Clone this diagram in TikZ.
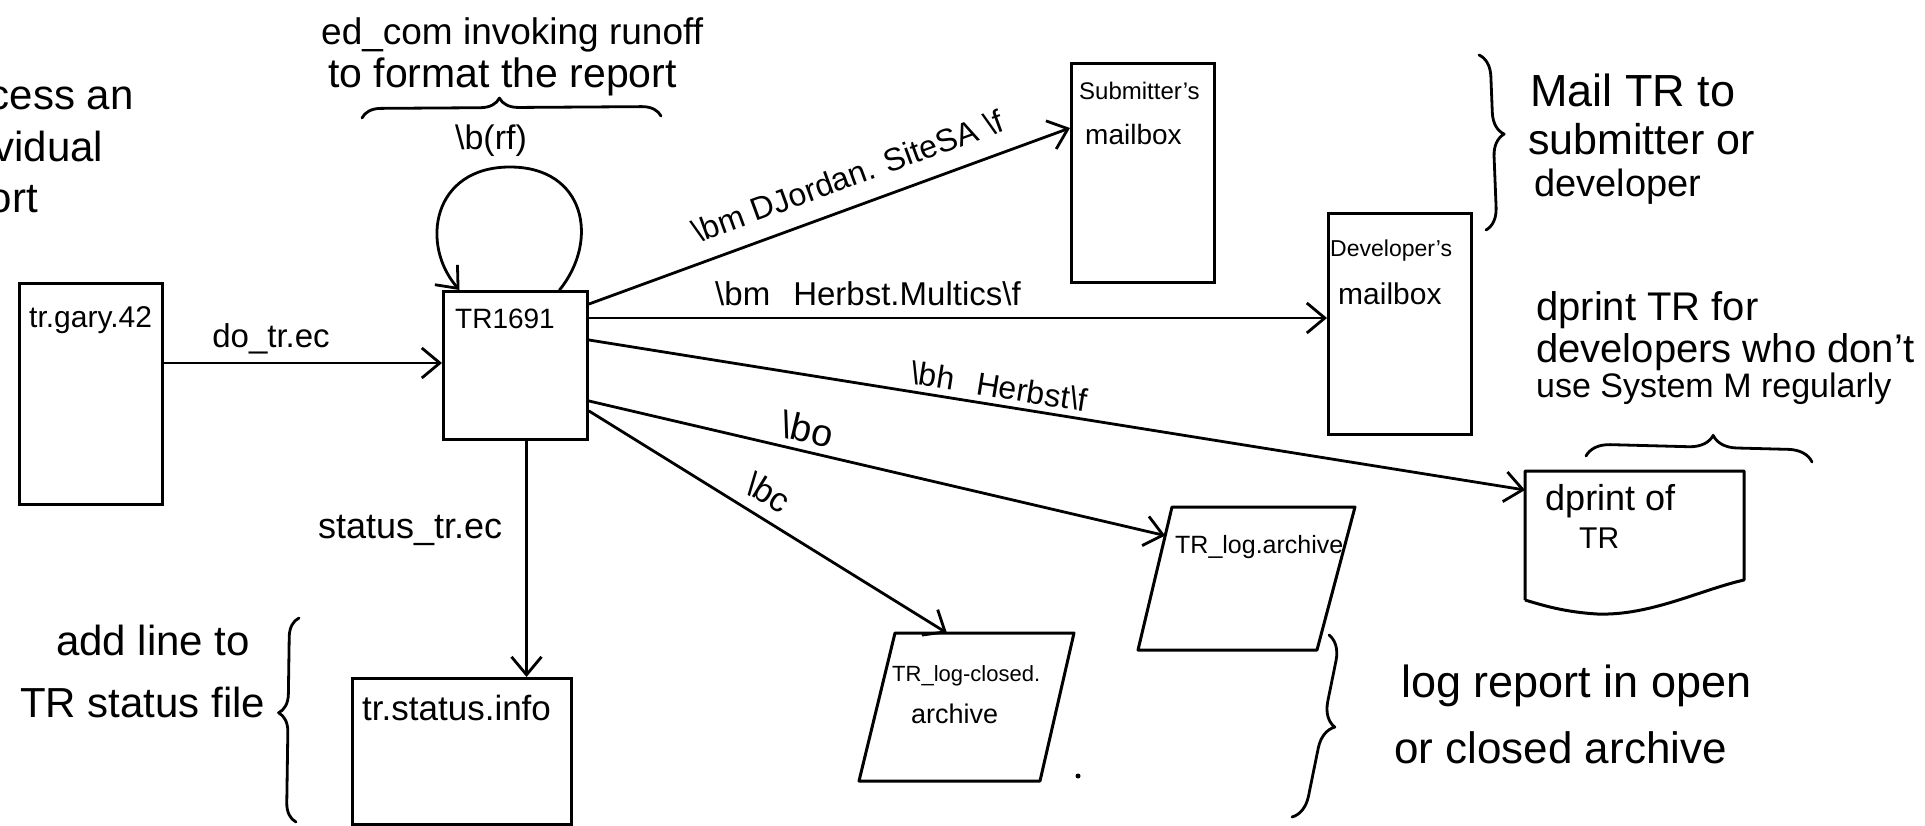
\documentclass[tikz,border=0pt]{standalone}
\usepackage{fontspec}
\setmainfont{Liberation Sans}
\usetikzlibrary{arrows.meta,calc,decorations.pathreplacing}

% font size in pt; the picture uses 1pt per unit
\newcommand\hsz[1]{\fontsize{#1}{#1}\selectfont}

\begin{document}
\begin{tikzpicture}[x=1pt, y=-1pt,
  ink/.style={line width=2.8pt, line cap=round, line join=round},
  box/.style={draw, line width=3pt, inner sep=0pt, outer sep=1.5pt, anchor=north west},
  ghost/.style={inner sep=0pt, outer sep=0pt, anchor=north west},
  shapeline/.style={line width=3pt, line join=round},
  lbl/.style={inner sep=0pt, anchor=base west},
  conn/.style={ink, -{Straight Barb[length=18pt,width=30pt]}},
  bracestroke/.style={ink, decorate, decoration={brace, amplitude=#1}},
]
\useasboundingbox (0,0) rectangle (1925,826);
\clip (0,0) rectangle (1925,826);

% ---- free annotations ----
\node[lbl, font={\hsz{42}}] (procA) at (-72,110) {process an};
\node[lbl, font={\hsz{42}}] (procB) at (-72,162) {individual};
\node[lbl, font={\hsz{42}}] (procC) at (-72,213) {report};

\node[lbl, font={\hsz{37}}] (edA) at (321,45) {ed\_com invoking runoff};
\node[lbl, font={\hsz{41}}] (edB) at (328,88) {to format the report};

\node[lbl, font={\hsz{42}}] (addA) at (56,655) {add line to};
\node[lbl, font={\hsz{42}}] (addB) at (20,717) {TR status file};

\node[lbl, font={\hsz{45}}] (mailA) at (1530,107) {Mail TR to};
\node[lbl, font={\hsz{43}}] (mailB) at (1528,155) {submitter or};
\node[lbl, font={\hsz{38}}] (mailC) at (1534,197) {developer};

\node[lbl, font={\hsz{40}}] (dprA) at (1536,320) {dprint TR for};
\node[lbl, font={\hsz{40}}] (dprB) at (1536,362) {developers who don't};
\node[lbl, font={\hsz{34}}] (dprC) at (1536,397) {use System M regularly};

\node[lbl, font={\hsz{45}}] (logA) at (1401,697) {log report in open};
\node[lbl, font={\hsz{44}}] (logB) at (1394,763) {or closed archive};

% ---- rectangular files ----
\node[box, minimum width=143pt, minimum height=221pt] (gary) at (18,282) {};
\node[lbl, font={\hsz{30}}] (garyt) at (29,327) {tr.gary.42};

\node[box, minimum width=144pt, minimum height=148pt] (tr) at (442,290) {};
\node[lbl, font={\hsz{28}}] (trt) at (455,328) {TR1691};

\node[box, minimum width=143pt, minimum height=219pt] (sub) at (1070,62) {};
\node[lbl, font={\hsz{24}}] (subA) at (1079,100) {Submitter's};
\node[lbl, font={\hsz{28}}] (subB) at (1085,145) {mailbox};

\node[box, minimum width=143pt, minimum height=221pt] (dev) at (1327,212) {};
\node[lbl, font={\hsz{23}}] (devA) at (1330,257) {Developer's};
\node[lbl, font={\hsz{30}}] (devB) at (1338,305) {mailbox};

\node[box, minimum width=219pt, minimum height=146pt] (status) at (351,677) {};
\node[lbl, font={\hsz{35}}] (statust) at (362,720) {tr.status.info};

% ---- printout (document shape with wavy bottom) ----
\node[ghost, minimum width=219pt, minimum height=109pt] (dp) at (1525,471) {};
\draw[shapeline] ([yshift=-20pt]dp.south west) -- (dp.north west) -- (dp.north east)
  -- (dp.south east) .. controls (1700,590) and (1650,616) .. (1597,614)
  .. controls (1565,612) and (1545,606) .. ([yshift=-20pt]dp.south west);
\node[lbl, font={\hsz{36}}] (dpA) at (1545,510) {dprint of};
\node[lbl, font={\hsz{30}}] (dpB) at (1579,548) {TR};

% ---- archive segments (parallelograms) ----
\node[ghost, minimum width=217pt, minimum height=143pt] (log) at (1138,507) {};
\draw[shapeline] (log.south west) -- ([xshift=34pt]log.north west) -- (log.north east)
  -- ([xshift=-38pt]log.south east) -- cycle;
\node[lbl, font={\hsz{25}}] (logt) at (1175,553) {TR\_log.archive};

\node[ghost, minimum width=215pt, minimum height=148pt] (closed) at (859,633) {};
\draw[shapeline] (closed.south west) -- ([xshift=36pt]closed.north west) -- (closed.north east)
  -- ([xshift=-34pt]closed.south east) -- cycle;
\node[lbl, font={\hsz{22}}] (closedA) at (892,681) {TR\_log-closed.};
\node[lbl, font={\hsz{27}}] (closedB) at (911,723) {archive};

\fill (1078,776) circle (2.5pt);

% ---- connectors ----
\draw[conn] ([yshift=-81pt]gary.north east)
  -- node[pos=0.385, anchor=base, inner sep=0pt, yshift=15pt, font={\hsz{33}}] (doLbl) {do\_tr.ec}
  ([yshift=-73pt]tr.north west);

\draw[conn] ([xshift=44pt]tr.north) .. controls (600,240) and (585,167) .. (510,167)
  node[anchor=south, inner sep=0pt, xshift=-19pt, yshift=9pt, font={\hsz{34}}] (rfLbl) {\textbackslash b(rf)}
  .. controls (432,167) and (420,245) .. ([xshift=-56pt]tr.north);

\draw[conn] ([yshift=-14pt]tr.north east)
  -- node[pos=0.56, sloped, above=18pt, inner sep=0pt, font={\hsz{32}}] (djLbl) {\textbackslash bm DJordan. SiteSA \textbackslash f}
  ([yshift=-66pt]sub.north west);

\draw[conn] ([yshift=-28pt]tr.north east)
  -- node[pos=0.378, anchor=base, inner sep=0pt, yshift=12pt, font={\hsz{33}}] (hmLbl) {\textbackslash bm\hspace{0.7em}Herbst.Multics\textbackslash f}
  ([yshift=-106pt]dev.north west);

\draw[conn] ([yshift=-50pt]tr.north east)
  -- node[pos=0.435, sloped, above=6pt, inner sep=0pt, font={\hsz{32}}] (bhLbl) {\textbackslash bh\hspace{0.7em}Herbst\textbackslash f}
  ([yshift=-19pt]dp.north west);

\draw[conn] ([yshift=-111pt]tr.north east)
  -- node[pos=0.37, sloped, above=7pt, inner sep=0pt, font={\hsz{38}}] (boLbl) {\textbackslash bo}
  ($(log.south west)!0.8!([xshift=34pt]log.north west)$);

\draw[conn] ([yshift=-121pt]tr.north east)
  -- node[pos=0.463, sloped, above=11pt, inner sep=0pt, font={\hsz{34}}] (bcLbl) {\textbackslash bc}
  ($([xshift=36pt]closed.north west)!0.29!(closed.north east)$);

\draw[conn] ([xshift=11pt]tr.south)
  -- node[pos=0.377, left=23pt, inner sep=0pt, font={\hsz{36}}] (stLbl) {status\_tr.ec}
  ([xshift=11pt]tr.south |- status.north);

% ---- braces ----
\draw[bracestroke=19pt, decoration={aspect=0.46}] (362,118) -- (661,116);
\draw[bracestroke=19pt, decoration={aspect=0.534}] (296,822) -- (299,618);
\draw[bracestroke=22pt, decoration={aspect=0.457}] (1479,55) -- (1486,230);
\draw[bracestroke=24pt, decoration={aspect=0.48}] (1329,635) -- (1292,817);
\draw[bracestroke=24pt, decoration={aspect=0.56}] (1586,456) -- (1812,462);
\end{tikzpicture}
\end{document}
